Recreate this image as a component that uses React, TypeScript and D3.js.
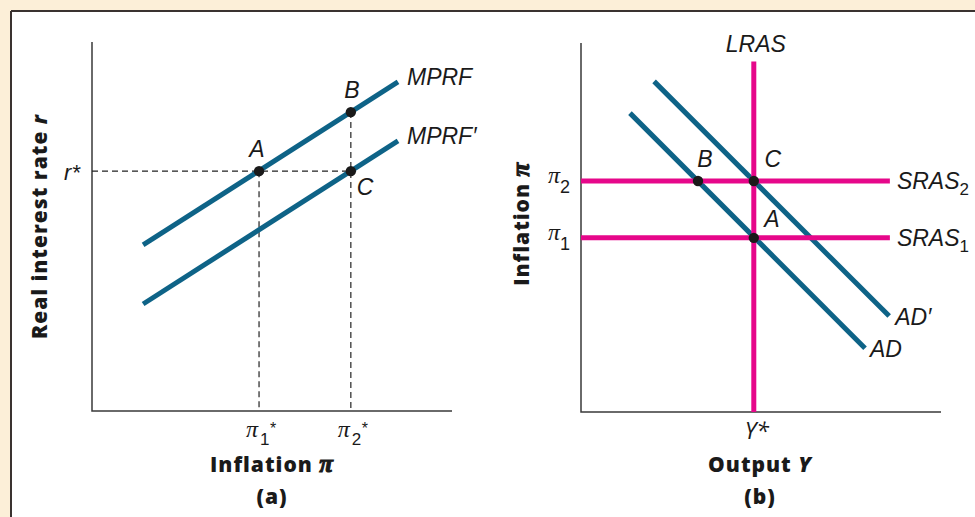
import * as d3 from "d3";

// ---- panel (a): monetary policy reaction function ----
const rStar = 6.5;
const pi1Star = 4.64;
const pi2Star = 7.19;
const rB = 8.1;
const mprf: [number, number][] = [
  [1.42, 4.5],
  [8.5, 8.92],
];
const mprfPrime: [number, number][] = [
  [1.42, 2.9],
  [8.5, 7.32],
];

// ---- panel (b): AD / AS ----
const yStar = 4.8;
const lrasTop = 9.5;
const pi2 = 6.26;
const pi1 = 4.72;
const srasEnd = 8.58;
const piB = 3.25;
const ad: [number, number][] = [
  [1.36, 8.1],
  [7.89, 1.73],
];
const adPrime: [number, number][] = [
  [2.03, 8.96],
  [8.56, 2.6],
];

const W = 975;
const H = 517;
const BLUE = "#0e6387";
const PINK = "#e6078a";
const AXIS = "#3a3a3a";
const LABEL = "'Liberation Sans', Arial, sans-serif";
const TITLE = "'Open Sans', 'DejaVu Sans', sans-serif";
const GREEK = "'Liberation Serif', 'Times New Roman', serif";

export default function App() {
  const xA = d3.scaleLinear().domain([0, 10]).range([92, 452]);
  const yA = d3.scaleLinear().domain([0, 10]).range([411, 42]);
  const xB = d3.scaleLinear().domain([0, 10]).range([581, 941]);
  const yB = d3.scaleLinear().domain([0, 10]).range([412, 43]);

  const lineA = d3
    .line<[number, number]>()
    .x((d) => xA(d[0]))
    .y((d) => yA(d[1]));
  const lineB = d3
    .line<[number, number]>()
    .x((d) => xB(d[0]))
    .y((d) => yB(d[1]));

  const italic = { fontFamily: LABEL, fontStyle: "italic", fontSize: 23, fill: "#1a1a1a" } as const;
  const title = { fontFamily: TITLE, fontWeight: 800, fontSize: 21, fill: "#1a1a1a", letterSpacing: 1 } as const;
  const boldPi = { fontFamily: GREEK, fontStyle: "italic", fontWeight: 700, fontSize: 25, stroke: "#1a1a1a", strokeWidth: 1.1 } as const;
  const dash = { stroke: "#222", strokeWidth: 1.2, strokeDasharray: "6,4", fill: "none" };

  return (
    <svg
      width={W}
      height={H}
      style={{ position: "absolute", left: 0, top: 0 }}
    >
      {/* frame */}
      <rect x={0} y={0} width={W} height={H} fill="#fcefd8" />
      <rect x={11} y={11} width={W} height={H} fill="#fff" />
      <line x1={11} y1={11} x2={W} y2={11} stroke="#3a3230" strokeWidth={2} />
      <line x1={11} y1={11} x2={11} y2={H} stroke="#3a3230" strokeWidth={2} />

      {/* ===== panel (a) ===== */}
      <path
        d={`M${xA(0)},${yA(10)}V${yA(0)}H${xA(10)}`}
        fill="none"
        stroke={AXIS}
        strokeWidth={1.5}
      />
      <line x1={xA(0)} y1={yA(rStar)} x2={xA(pi2Star)} y2={yA(rStar)} {...dash} />
      <line x1={xA(pi1Star)} y1={yA(rStar)} x2={xA(pi1Star)} y2={yA(0)} {...dash} />
      <line x1={xA(pi2Star)} y1={yA(rB)} x2={xA(pi2Star)} y2={yA(0)} {...dash} />

      <path d={lineA(mprf) ?? ""} stroke={BLUE} strokeWidth={5} fill="none" />
      <path d={lineA(mprfPrime) ?? ""} stroke={BLUE} strokeWidth={5} fill="none" />

      <circle cx={xA(pi1Star)} cy={yA(rStar)} r={5.2} fill="#1a1a1a" />
      <circle cx={xA(pi2Star)} cy={yA(rB)} r={5.2} fill="#1a1a1a" />
      <circle cx={xA(pi2Star)} cy={yA(rStar)} r={5.2} fill="#1a1a1a" />

      <text {...italic} x={xA(pi1Star) - 2} y={yA(rStar) - 14} textAnchor="middle">A</text>
      <text {...italic} x={xA(pi2Star) + 1} y={yA(rB) - 14} textAnchor="middle">B</text>
      <text {...italic} x={xA(pi2Star) + 6} y={yA(rStar) + 24}>C</text>
      <text {...italic} x={xA(mprf[1][0]) + 9} y={yA(mprf[1][1]) + 3}>MPRF</text>
      <text {...italic} x={xA(mprfPrime[1][0]) + 9} y={yA(mprfPrime[1][1]) + 3}>MPRF′</text>

      {/* r* tick label */}
      <text {...italic} fontSize={22} x={xA(0) - 12} y={yA(rStar) + 9} textAnchor="end">
        r*
      </text>

      {/* pi tick labels */}
      {[
        { v: pi1Star, sub: "1" },
        { v: pi2Star, sub: "2" },
      ].map((t) => (
        <g key={t.sub} transform={`translate(${xA(t.v)},${yA(0)})`}>
          <text x={-7} y={26} fontFamily={GREEK} fontStyle="italic" fontSize={24} textAnchor="middle" fill="#1a1a1a">
            π
          </text>
          <text x={1} y={34} fontFamily={LABEL} fontSize={17} fill="#1a1a1a">
            {t.sub}
          </text>
          <text x={11} y={23} fontFamily={LABEL} fontSize={16} fill="#1a1a1a">
            *
          </text>
        </g>
      ))}

      <text {...title} x={272} y={472} textAnchor="middle">
        Inflation <tspan {...boldPi}>π</tspan>
      </text>
      <text {...title} x={272} y={504} textAnchor="middle">
        (a)
      </text>
      <text
        {...title}
        transform={`translate(47,${yA(5)}) rotate(-90)`}
        textAnchor="middle"
      >
        Real interest rate <tspan fontStyle="italic">r</tspan>
      </text>

      {/* ===== panel (b) ===== */}
      <path
        d={`M${xB(0)},${yB(10)}V${yB(0)}H${xB(10)}`}
        fill="none"
        stroke={AXIS}
        strokeWidth={1.5}
      />

      <path d={lineB(ad) ?? ""} stroke={BLUE} strokeWidth={5} fill="none" />
      <path d={lineB(adPrime) ?? ""} stroke={BLUE} strokeWidth={5} fill="none" />

      <line x1={xB(yStar)} y1={yB(lrasTop)} x2={xB(yStar)} y2={yB(0)} stroke={PINK} strokeWidth={5} />
      <line x1={xB(0)} y1={yB(pi2)} x2={xB(srasEnd)} y2={yB(pi2)} stroke={PINK} strokeWidth={5} />
      <line x1={xB(0)} y1={yB(pi1)} x2={xB(srasEnd)} y2={yB(pi1)} stroke={PINK} strokeWidth={5} />

      <circle cx={xB(piB)} cy={yB(pi2)} r={5.2} fill="#1a1a1a" />
      <circle cx={xB(yStar)} cy={yB(pi2)} r={5.2} fill="#1a1a1a" />
      <circle cx={xB(yStar)} cy={yB(pi1)} r={5.2} fill="#1a1a1a" />

      <text {...italic} x={xB(piB) + 7} y={yB(pi2) - 14} textAnchor="middle">B</text>
      <text {...italic} x={xB(yStar) + 19} y={yB(pi2) - 14} textAnchor="middle">C</text>
      <text {...italic} x={xB(yStar) + 18} y={yB(pi1) - 11} textAnchor="middle">A</text>
      <text {...italic} x={xB(yStar) + 2} y={yB(lrasTop) - 9} textAnchor="middle">LRAS</text>

      {[
        { v: pi2, sub: "2" },
        { v: pi1, sub: "1" },
      ].map((t) => (
        <g key={t.sub}>
          <text x={xB(srasEnd) + 7} y={yB(t.v) + 8} {...italic}>
            SRAS
            <tspan fontSize={17} dy={6} fontStyle="normal">{t.sub}</tspan>
          </text>
          <text x={554} y={yB(t.v) + 2} fontFamily={GREEK} fontStyle="italic" fontSize={24} textAnchor="middle" fill="#1a1a1a">
            π
          </text>
          <text x={560} y={yB(t.v) + 12} fontFamily={LABEL} fontSize={18} fill="#1a1a1a">
            {t.sub}
          </text>
        </g>
      ))}

      <text {...italic} x={xB(adPrime[1][0]) + 6} y={yB(adPrime[1][1]) + 9}>AD′</text>
      <text {...italic} x={xB(ad[1][0]) + 5} y={yB(ad[1][1]) + 9}>AD</text>

      <text x={xB(yStar) + 3} y={439} fontFamily={TITLE} fontStyle="italic" fontSize={23} textAnchor="middle" fill="#1a1a1a">
        Y*
      </text>
      <text {...title} x={760} y={472} textAnchor="middle">
        Output <tspan fontStyle="italic">Y</tspan>
      </text>
      <text {...title} x={760} y={504} textAnchor="middle">
        (b)
      </text>
      <text
        {...title}
        transform={`translate(529,${yB(5.1)}) rotate(-90)`}
        textAnchor="middle"
      >
        Inflation <tspan {...boldPi}>π</tspan>
      </text>
    </svg>
  );
}
